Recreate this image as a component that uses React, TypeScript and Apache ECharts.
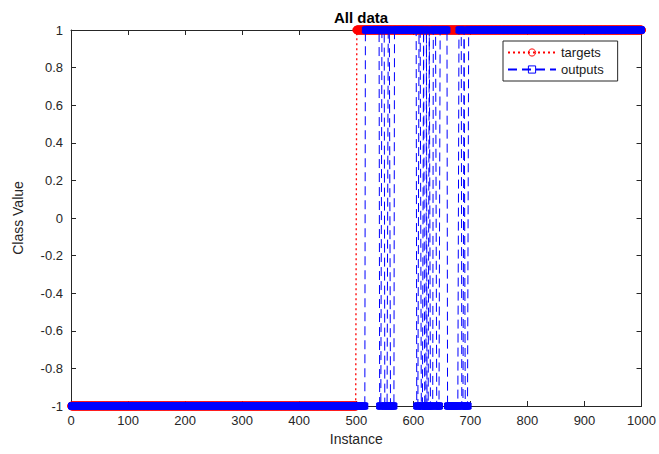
import React, { useEffect, useRef } from "react";
import * as echarts from "echarts";

// Runs: [first instance, last instance, class value]
const targetRuns: [number, number, number][] = [
  [1, 500, -1],
  [501, 1000, 1],
];
const outputRuns: [number, number, number][] = [
  [1, 515, -1],
  [516, 540, 1],
  [541, 544, -1],
  [545, 549, 1],
  [550, 555, -1],
  [556, 559, 1],
  [560, 566, -1],
  [567, 605, 1],
  [606, 609, -1],
  [610, 613, 1],
  [614, 617, -1],
  [618, 619, 1],
  [620, 622, -1],
  [623, 623, 1],
  [624, 627, -1],
  [628, 629, 1],
  [630, 634, -1],
  [635, 640, 1],
  [641, 646, -1],
  [647, 659, 1],
  [660, 679, -1],
  [680, 684, 1],
  [685, 688, -1],
  [689, 690, 1],
  [691, 696, -1],
  [697, 1000, 1],
];
const seriesNames = ["targets", "outputs"];
const titleText = "All data";
const xName = "Instance";
const yName = "Class Value";

function expandRuns(runs: [number, number, number][]): [number, number][] {
  const out: [number, number][] = [];
  for (const [a, b, v] of runs) {
    for (let i = a; i <= b; i++) out.push([i, v]);
  }
  return out;
}

const FONT = "'Liberation Sans', Arial, Helvetica, sans-serif";
const AX = "#262626";

export default function App() {
  const ref = useRef<HTMLDivElement>(null);
  useEffect(() => {
    document.body.style.margin = "0";
    const chart = echarts.init(ref.current!, undefined, { renderer: "svg" });
    const axisLine = { show: true, onZero: false, lineStyle: { color: AX, width: 1 } };
    const tick = { show: true, inside: true, length: 5, lineStyle: { color: AX } };
    chart.setOption({
      animation: false,
      backgroundColor: "#ffffff",
      textStyle: { fontFamily: FONT },
      title: {
        text: titleText,
        left: 356,
        textAlign: "center",
        top: 5,
        textStyle: { fontFamily: FONT, fontSize: 15, fontWeight: "bold", color: "#000" },
      },
      legend: {
        data: [
          {
            name: seriesNames[0],
            itemStyle: { color: "rgba(255,255,255,0)", borderColor: "#ff0000", borderWidth: 1 },
          },
          {
            name: seriesNames[1],
            itemStyle: { color: "rgba(255,255,255,0)", borderColor: "#0000ff", borderWidth: 1 },
          },
        ],
        orient: "vertical",
        left: 503,
        top: 41,
        padding: [5, 14, 5, 4],
        itemGap: 4,
        itemWidth: 48,
        itemHeight: 9,
        borderColor: AX,
        borderWidth: 1,
        backgroundColor: "#fff",
        textStyle: { fontFamily: FONT, fontSize: 13, color: "#1a1a1a" },
      },
      grid: { left: 71, right: 17, top: 30, bottom: 48, containLabel: false },
      xAxis: [
        {
          type: "value",
          min: 0,
          max: 1000,
          interval: 100,
          name: xName,
          nameLocation: "middle",
          nameGap: 26,
          nameTextStyle: { fontFamily: FONT, fontSize: 14, color: AX },
          axisLine,
          axisTick: tick,
          splitLine: { show: false },
          axisLabel: {
            fontFamily: FONT,
            fontSize: 13,
            color: AX,
            margin: 8,
            formatter: (v: number) => String(v),
          },
        },
        {
          type: "value",
          position: "top",
          min: 0,
          max: 1000,
          interval: 100,
          axisLine,
          axisTick: tick,
          splitLine: { show: false },
          axisLabel: { show: false },
        },
      ],
      yAxis: [
        {
          type: "value",
          min: -1,
          max: 1,
          interval: 0.2,
          name: yName,
          nameLocation: "middle",
          nameGap: 46,
          nameTextStyle: { fontFamily: FONT, fontSize: 14, color: AX },
          axisLine,
          axisTick: tick,
          splitLine: { show: false },
          axisLabel: {
            fontFamily: FONT,
            fontSize: 13,
            color: AX,
            margin: 8,
            formatter: (v: number) => String(Math.round(v * 10) / 10),
          },
        },
        {
          type: "value",
          position: "right",
          min: -1,
          max: 1,
          interval: 0.2,
          axisLine,
          axisTick: tick,
          splitLine: { show: false },
          axisLabel: { show: false },
        },
      ],
      series: [
        {
          name: seriesNames[0],
          type: "line",
          xAxisIndex: 0,
          yAxisIndex: 0,
          data: expandRuns(targetRuns),
          color: "#ff0000",
          symbol: "circle",
          symbolSize: 8,
          showSymbol: true,
          showAllSymbol: true,
          clip: false,
          itemStyle: { color: "#ff0000", borderColor: "#ff0000", borderWidth: 1 },
          lineStyle: { color: "#ff0000", width: 1.3, type: [2, 3] },
          emphasis: { disabled: true },
          z: 2,
        },
        {
          name: seriesNames[1],
          type: "line",
          xAxisIndex: 0,
          yAxisIndex: 0,
          data: expandRuns(outputRuns),
          color: "#0000ff",
          symbol: "rect",
          symbolSize: 6,
          showSymbol: true,
          showAllSymbol: true,
          clip: false,
          itemStyle: { color: "#0000ff", borderColor: "#0000ff", borderWidth: 1 },
          lineStyle: { color: "#0000ff", width: 1, type: [9, 5] },
          emphasis: { disabled: true },
          z: 3,
        },
      ],
    });
    return () => chart.dispose();
  }, []);
  return (
    <div
      ref={ref}
      style={{ position: "absolute", left: 0, top: 0, width: 659, height: 454 }}
    />
  );
}
